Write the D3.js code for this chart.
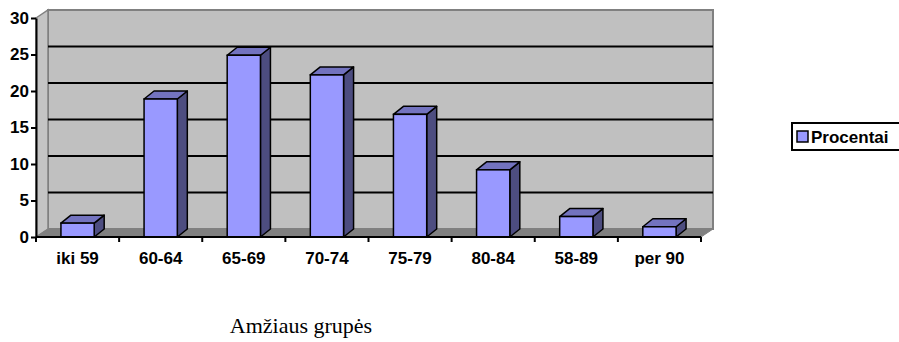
<!DOCTYPE html>
<meta charset="utf-8">
<script src="https://d3js.org/d3.v7.min.js"></script>
<style>
body { margin: 0; background: #fff; }
.lbl { font-family: "Liberation Sans", Arial, sans-serif; font-weight: bold; font-size: 17px; fill: #000; }
.axis path, .axis line { stroke: #000; stroke-width: 2; }
</style>
<body>
<div id="canvas"></div>
<script>

// data ----------------------------------------------------------
var categorias = ["iki 59", "60-64", "65-69", "70-74", "75-79", "80-84", "58-89", "per 90"];
var procentai = [1.9, 18.9, 24.9, 22.2, 16.8, 9.2, 2.8, 1.4];
var yTicks = [0, 5, 10, 15, 20, 25, 30];
var serieNome = "Procentai";
var eixoTitulo = "Amžiaus grupės";

var width = 899;
var height = 342;
var margin = {top: 18, left: 36, right: 197, bottom: 105};
var depth = {dx: 12, dy: -8};      // profundidade das paredes
var barDepth = {dx: 10, dy: -8};   // profundidade das barras

var svg = d3.select('#canvas')
	.append("svg")
	.attr("width", width)
	.attr("height", height);

// escalas -------------------------------------------------------
var x = d3.scaleBand()
	.domain(categorias)
	.range([margin.left, width - margin.right - 1])
	.paddingInner(0.6)
	.paddingOuter(0.3);

var y = d3.scaleLinear()
	.domain([0, 30])
	.range([height - margin.bottom, margin.top]);

var x0 = x.range()[0], x1 = x.range()[1];
var yb = y(0), yt = y(30);

function pts(a) { return a.map(function(p){ return p.join(","); }).join(" "); }

// paredes -------------------------------------------------------
// parede do fundo
svg.append("polygon")
	.attr("points", pts([[x0+depth.dx, yt+depth.dy], [x1+depth.dx, yt+depth.dy], [x1+depth.dx, yb+depth.dy], [x0+depth.dx, yb+depth.dy]]))
	.attr("fill", "#c0c0c0")
	.attr("stroke", "#808080")
	.attr("stroke-width", 2);

// parede lateral
svg.append("polygon")
	.attr("points", pts([[x0, yt], [x0+depth.dx, yt+depth.dy], [x0+depth.dx, yb+depth.dy], [x0, yb]]))
	.attr("fill", "#c4c4c4")
	.attr("stroke", "#808080")
	.attr("stroke-width", 1.5);

// chao
svg.append("polygon")
	.attr("points", pts([[x0, yb], [x0+depth.dx, yb+depth.dy], [x1+depth.dx, yb+depth.dy], [x1, yb]]))
	.attr("fill", "#808080")
	.attr("stroke", "#808080")
	.attr("stroke-width", 1);

// linhas de grade
svg.selectAll(".grid")
	.data(yTicks.filter(function(d){ return d > 0 && d < 30; }))
	.enter().append("line")
	.attr("x1", x0 + depth.dx)
	.attr("x2", x1 + depth.dx)
	.attr("y1", function(d){ return y(d) + depth.dy; })
	.attr("y2", function(d){ return y(d) + depth.dy; })
	.attr("stroke", "#000")
	.attr("stroke-width", 2);

// barras --------------------------------------------------------
var bars = svg.selectAll(".bar")
	.data(categorias.map(function(c, i){ return {c: c, v: procentai[i]}; }))
	.enter().append("g")
	.attr("class", "bar");

var bw = x.bandwidth();

bars.append("polygon") // lado
	.attr("points", function(d){
		var l = x(d.c) + bw, t = y(d.v);
		return pts([[l, t], [l+barDepth.dx, t+barDepth.dy], [l+barDepth.dx, yb+barDepth.dy], [l, yb]]);
	})
	.attr("fill", "#4d4d80")
	.attr("stroke", "#000")
	.attr("stroke-width", 1.5)
	.attr("stroke-linejoin", "round");

bars.append("polygon") // topo
	.attr("points", function(d){
		var l = x(d.c), t = y(d.v);
		return pts([[l, t], [l+barDepth.dx, t+barDepth.dy], [l+bw+barDepth.dx, t+barDepth.dy], [l+bw, t]]);
	})
	.attr("fill", "#7373bf")
	.attr("stroke", "#000")
	.attr("stroke-width", 1.5)
	.attr("stroke-linejoin", "round");

bars.append("rect") // frente
	.attr("x", function(d){ return x(d.c); })
	.attr("y", function(d){ return y(d.v); })
	.attr("width", bw)
	.attr("height", function(d){ return yb - y(d.v); })
	.attr("fill", "#9999ff")
	.attr("stroke", "#000")
	.attr("stroke-width", 1.5);

// eixo Y --------------------------------------------------------
var yAxis = svg.append("g")
	.attr("class", "axis")
	.attr("transform", "translate(" + x0 + ",0)")
	.call(d3.axisLeft(y).tickValues(yTicks).tickSize(5).tickSizeOuter(0).tickPadding(2));
yAxis.selectAll("text").attr("class", "lbl");

// eixo X --------------------------------------------------------
var bounds = categorias.map(function(c){ return x(c) - x.step() * x.paddingInner() / 2; }).concat([x1]);
bounds[0] = x0;
svg.append("line")
	.attr("x1", x0).attr("x2", x1)
	.attr("y1", yb).attr("y2", yb)
	.attr("stroke", "#000").attr("stroke-width", 2);
svg.selectAll(".xtick")
	.data(bounds)
	.enter().append("line")
	.attr("x1", function(d){ return d; }).attr("x2", function(d){ return d; })
	.attr("y1", yb).attr("y2", yb + 5)
	.attr("stroke", "#000").attr("stroke-width", 2);
svg.selectAll(".xlbl")
	.data(categorias)
	.enter().append("text")
	.attr("class", "lbl")
	.attr("x", function(d){ return x(d) + bw / 2; })
	.attr("y", yb + 27)
	.style("text-anchor", "middle")
	.text(function(d){ return d; });

// titulo do eixo ------------------------------------------------
svg.append("text")
	.attr("x", 301)
	.attr("y", 333)
	.style("text-anchor", "middle")
	.style("font-family", "'Liberation Serif', 'Times New Roman', serif")
	.style("font-size", "22px")
	.text(eixoTitulo);

// legenda -------------------------------------------------------
var leg = svg.append("g").attr("transform", "translate(792,123)");
leg.append("rect")
	.attr("x", 0).attr("y", 0)
	.attr("width", 120).attr("height", 27)
	.attr("fill", "#fff")
	.attr("stroke", "#000")
	.attr("stroke-width", 2);
leg.append("rect")
	.attr("x", 5).attr("y", 8)
	.attr("width", 11).attr("height", 11)
	.attr("fill", "#9999ff")
	.attr("stroke", "#000")
	.attr("stroke-width", 1.5);
leg.append("text")
	.attr("class", "lbl")
	.attr("x", 19).attr("y", 20)
	.text(serieNome);

</script>
</body>
